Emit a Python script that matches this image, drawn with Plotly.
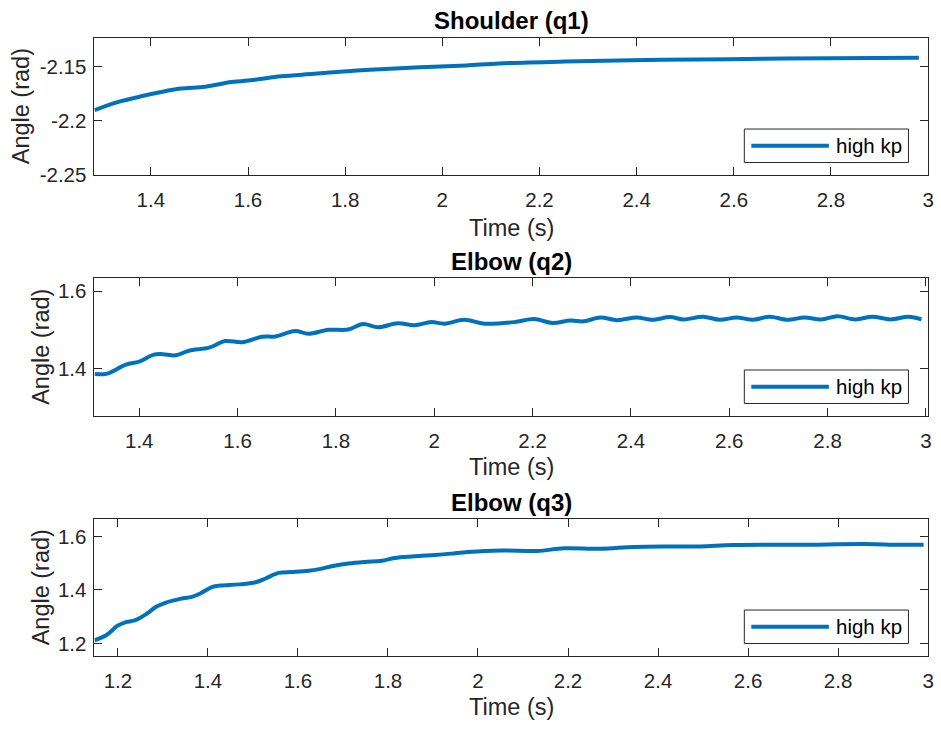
import plotly.graph_objects as go

# ---- data: joint angle responses (rad) over time (s) ----
t_q1 = [1.284, 1.328, 1.376, 1.416, 1.461, 1.512, 1.566, 1.614, 1.668, 1.736,
        1.804, 1.872, 1.954, 2.049, 2.117, 2.253, 2.389, 2.525, 2.661, 2.797, 2.981]
q1 = [-2.1900, -2.1830, -2.1776, -2.1737, -2.1700, -2.1683, -2.1640, -2.1618, -2.1587, -2.1564,
      -2.1540, -2.1522, -2.1504, -2.1486, -2.1468, -2.1450, -2.1438, -2.1432, -2.1425, -2.1420, -2.1416]

t_q2 = [1.309, 1.333, 1.373, 1.400, 1.430, 1.448, 1.474, 1.501, 1.542, 1.575,
        1.609, 1.650, 1.677, 1.717, 1.744, 1.785, 1.825, 1.855, 1.886, 1.926,
        1.960, 1.994, 2.021, 2.061, 2.102, 2.163, 2.203, 2.240, 2.277, 2.304,
        2.338, 2.372, 2.412, 2.443, 2.480, 2.507, 2.547, 2.581, 2.615, 2.648,
        2.682, 2.719, 2.753, 2.787, 2.820, 2.857, 2.891, 2.928, 2.965, 2.991]
q2 = [1.386, 1.386, 1.410, 1.418, 1.436, 1.437, 1.434, 1.446, 1.454, 1.471,
      1.468, 1.482, 1.483, 1.497, 1.490, 1.500, 1.501, 1.515, 1.507, 1.517,
      1.512, 1.520, 1.516, 1.526, 1.516, 1.520, 1.528, 1.518, 1.524, 1.522,
      1.532, 1.525, 1.532, 1.526, 1.533, 1.527, 1.534, 1.526, 1.532, 1.526,
      1.534, 1.526, 1.532, 1.527, 1.535, 1.527, 1.534, 1.527, 1.534, 1.527]

t_q3 = [1.148, 1.174, 1.200, 1.218, 1.237, 1.263, 1.285, 1.307, 1.336, 1.366,
        1.384, 1.410, 1.428, 1.469, 1.506, 1.528, 1.557, 1.587, 1.624, 1.653,
        1.675, 1.712, 1.749, 1.786, 1.815, 1.859, 1.904, 1.940, 1.977, 2.051,
        2.132, 2.191, 2.272, 2.346, 2.419, 2.493, 2.567, 2.714, 2.861, 2.935, 2.990]
q3 = [1.212, 1.231, 1.267, 1.280, 1.286, 1.310, 1.337, 1.353, 1.366, 1.375,
      1.388, 1.412, 1.417, 1.421, 1.429, 1.443, 1.464, 1.467, 1.472, 1.480,
      1.489, 1.499, 1.505, 1.509, 1.520, 1.526, 1.531, 1.536, 1.542, 1.548,
      1.546, 1.556, 1.554, 1.561, 1.563, 1.563, 1.568, 1.569, 1.572, 1.569, 1.569]

titles = ["Shoulder (q1)", "Elbow (q2)", "Elbow (q3)"]
series_name = "high kp"
x_label = "Time (s)"
y_label = "Angle (rad)"

x_tickvals = [1.2, 1.4, 1.6, 1.8, 2.0, 2.2, 2.4, 2.6, 2.8, 3.0]
x_ticktext = ["1.2", "1.4", "1.6", "1.8", "2", "2.2", "2.4", "2.6", "2.8", "3"]
y1_tickvals = [-2.25, -2.2, -2.15]
y1_ticktext = ["-2.25", "-2.2", "-2.15"]
y2_tickvals = [1.4, 1.6]
y2_ticktext = ["1.4", "1.6"]
y3_tickvals = [1.2, 1.4, 1.6]
y3_ticktext = ["1.2", "1.4", "1.6"]

# ---- styling / layout ----
W, H = 941, 736
FONT = "Liberation Sans, Arial, Helvetica, sans-serif"
BLUE = "#0072BD"
AX = "#262626"

# panel boxes in pixels: (left, top, right, bottom)
boxes = [(95, 38.3, 933.3, 177.7), (95, 282.3, 933.3, 422.3), (95, 527, 933.3, 666)]
x_ranges = [[1.284, 3.0005], [1.309, 3.005], [1.148, 3.0005]]
y_ranges = [[-2.25, -2.123], [1.277, 1.634], [1.153, 1.665]]
y_ticks = [(y1_tickvals, y1_ticktext), (y2_tickvals, y2_ticktext), (y3_tickvals, y3_ticktext)]
title_y = [21, 265.5, 510]
xlabel_y = [231, 474.5, 718]
ylabel_x = [22, 41, 41]
data = [(t_q1, q1), (t_q2, q2), (t_q3, q3)]


def px(x):
    return x / W


def py(y):
    return 1 - y / H


fig = go.Figure()
annotations = []
shapes = []

for i, ((t, q), (l, tp, r, b)) in enumerate(zip(data, boxes)):
    n = "" if i == 0 else str(i + 1)
    fig.add_trace(go.Scatter(
        x=t, y=q, mode="lines", name=series_name, showlegend=False,
        line=dict(color=BLUE, width=4, shape="spline", smoothing=1),
        xaxis="x" + n, yaxis="y" + n,
    ))
    common = dict(
        showgrid=False, zeroline=False, showline=True, linecolor=AX, linewidth=1,
        mirror="ticks", ticks="inside", ticklen=8, tickcolor=AX, tickwidth=1,
        tickfont=dict(family=FONT, size=20.5, color=AX),
    )
    fig.update_layout(**{
        "xaxis" + n: dict(domain=[px(l), px(r)], range=x_ranges[i], anchor="y" + n,
                          tickvals=x_tickvals, ticktext=x_ticktext,
                          ticklabelstandoff=6, **common),
        "yaxis" + n: dict(domain=[py(b), py(tp)], range=y_ranges[i], anchor="x" + n,
                          tickvals=y_ticks[i][0], ticktext=y_ticks[i][1],
                          ticklabelstandoff=3, **common),
    })
    cx = (l + r) / 2
    annotations.append(dict(text="<b>%s</b>" % titles[i], x=px(cx), y=py(title_y[i]),
                            xref="paper", yref="paper", showarrow=False,
                            xanchor="center", yanchor="middle",
                            font=dict(family=FONT, size=24, color="black")))
    annotations.append(dict(text=x_label, x=px(cx), y=py(xlabel_y[i]),
                            xref="paper", yref="paper", showarrow=False,
                            xanchor="center", yanchor="middle",
                            font=dict(family=FONT, size=23.5, color=AX)))
    annotations.append(dict(text=y_label, x=px(ylabel_x[i]), y=py((tp + b) / 2),
                            xref="paper", yref="paper", showarrow=False, textangle=-90,
                            xanchor="center", yanchor="middle",
                            font=dict(family=FONT, size=23.5, color=AX)))
    # legend box in the lower-right corner of each panel
    lx0, lx1 = r - 185, r - 20
    ly1 = b - 12.7
    ly0 = ly1 - 34
    lym = (ly0 + ly1) / 2
    shapes.append(dict(type="rect", xref="paper", yref="paper",
                       x0=px(lx0), x1=px(lx1), y0=py(ly1), y1=py(ly0),
                       line=dict(color=AX, width=1), fillcolor="white", layer="above"))
    shapes.append(dict(type="line", xref="paper", yref="paper",
                       x0=px(lx0 + 7), x1=px(lx0 + 85), y0=py(lym), y1=py(lym),
                       line=dict(color=BLUE, width=4), layer="above"))
    annotations.append(dict(text=series_name, x=px(lx0 + 90), y=py(lym),
                            xref="paper", yref="paper", showarrow=False,
                            xanchor="left", yanchor="middle",
                            font=dict(family=FONT, size=20.5, color="black")))

fig.update_layout(
    width=W, height=H, margin=dict(l=0, r=0, t=0, b=0),
    paper_bgcolor="white", plot_bgcolor="white",
    annotations=annotations, shapes=shapes, showlegend=False,
)

fig.write_html("out.html")
